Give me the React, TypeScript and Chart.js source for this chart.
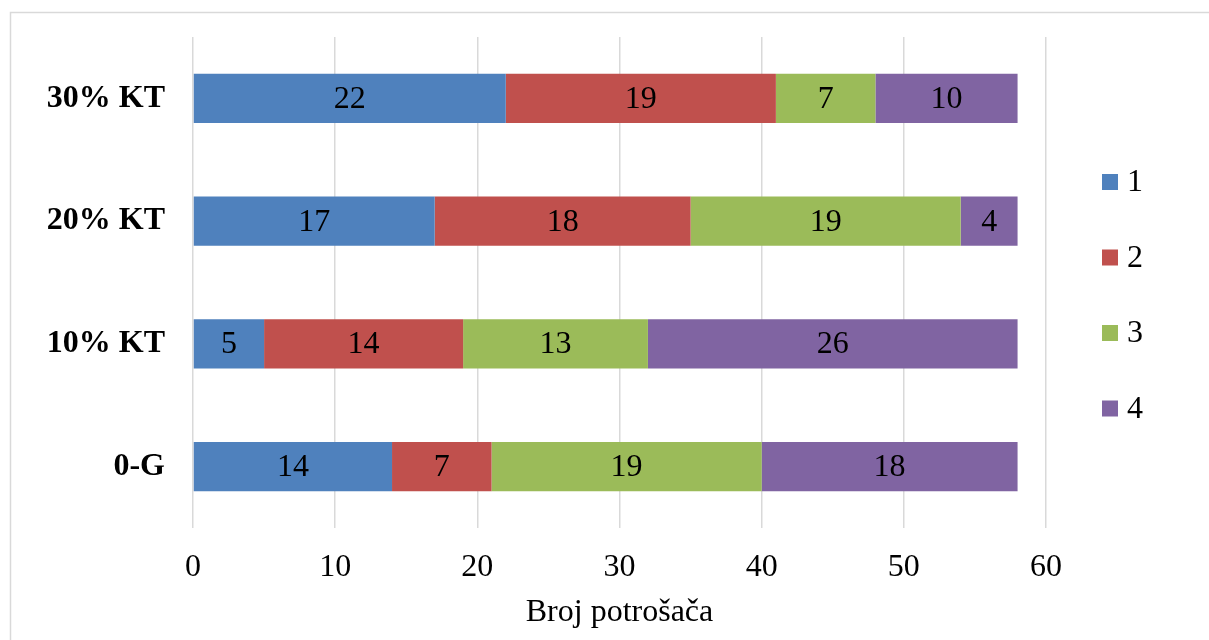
import React, { useEffect, useRef } from "react";
import { Chart, registerables } from "chart.js";

Chart.register(...registerables);

const categories = ["30% KT", "20% KT", "10% KT", "0-G"];
const seriesNames = ["1", "2", "3", "4"];
const series1 = [22, 17, 5, 14];
const series2 = [19, 18, 14, 7];
const series3 = [7, 19, 13, 19];
const series4 = [10, 4, 26, 18];
const xTicks = [0, 10, 20, 30, 40, 50, 60];
const colors = ["#4F81BD", "#C0504D", "#9BBB59", "#8064A2"];
const axisTitle = "Broj potrošača";

const FONT = "'Liberation Serif', 'Times New Roman', serif";

const borderPlugin = {
  id: "outerBorder",
  beforeDraw(chart: any) {
    const ctx = chart.ctx;
    ctx.save();
    ctx.fillStyle = "#ffffff";
    ctx.fillRect(0, 0, chart.width, chart.height);
    ctx.strokeStyle = "#d9d9d9";
    ctx.lineWidth = 1.5;
    ctx.strokeRect(10.5, 12.5, chart.width + 20, chart.height + 20);
    ctx.restore();
  },
};

const dataLabelPlugin = {
  id: "dataLabels",
  afterDatasetsDraw(chart: any) {
    const ctx = chart.ctx;
    ctx.save();
    ctx.font = `32px ${FONT}`;
    ctx.fillStyle = "#000000";
    ctx.textAlign = "center";
    ctx.textBaseline = "middle";
    chart.data.datasets.forEach((ds: any, di: number) => {
      const meta = chart.getDatasetMeta(di);
      meta.data.forEach((bar: any, i: number) => {
        const v = ds.data[i];
        const p = bar.getProps(["x", "y", "base"], true);
        const cx = (p.x + p.base) / 2;
        ctx.fillText(String(v), cx, p.y + 1);
      });
    });
    ctx.restore();
  },
};

const legendPlugin = {
  id: "customLegend",
  afterDraw(chart: any) {
    const ctx = chart.ctx;
    const area = chart.chartArea;
    ctx.save();
    ctx.font = `32px ${FONT}`;
    ctx.textAlign = "left";
    ctx.textBaseline = "middle";
    const startY = area.top + 145;
    const step = 75.5;
    const x = area.right + 56;
    chart.data.datasets.forEach((ds: any, i: number) => {
      const y = startY + i * step;
      ctx.fillStyle = ds.backgroundColor;
      ctx.fillRect(x, y - 8, 16, 16);
      ctx.fillStyle = "#000000";
      ctx.fillText(ds.label, x + 25, y + 1);
    });
    ctx.restore();
  },
};

export default function App() {
  const ref = useRef<HTMLCanvasElement | null>(null);
  useEffect(() => {
    if (!ref.current) return;
    const allSeries = [series1, series2, series3, series4];
    const chart = new Chart(ref.current, {
      type: "bar",
      data: {
        labels: categories,
        datasets: allSeries.map((d, i) => ({
          label: seriesNames[i],
          data: d,
          backgroundColor: colors[i],
          borderWidth: 0,
          categoryPercentage: 1,
          barPercentage: 0.4,
        })),
      },
      options: {
        indexAxis: "y",
        animation: false,
        responsive: false,
        maintainAspectRatio: false,
        layout: { padding: { top: 37, right: 163, left: 0, bottom: 0 } },
        plugins: {
          legend: { display: false },
          tooltip: { enabled: false },
        },
        scales: {
          x: {
            stacked: true,
            min: 0,
            max: 60,
            afterBuildTicks: (scale: any) => {
              scale.ticks = xTicks.map((v) => ({ value: v }));
            },
            afterFit: (scale: any) => {
              scale.height = 112;
            },
            grid: { color: "#d9d9d9", lineWidth: 1.5, drawTicks: false },
            border: { display: false },
            ticks: {
              color: "#000000",
              font: { family: FONT, size: 32 },
              padding: 20,
              maxRotation: 0,
            },
            title: {
              display: true,
              text: axisTitle,
              color: "#000000",
              font: { family: FONT, size: 32 },
              padding: { top: 0, bottom: 8 },
            },
          },
          y: {
            stacked: true,
            afterFit: (scale: any) => {
              scale.width = 193;
              scale.paddingTop = 0;
              scale.paddingBottom = 0;
            },
            grid: { display: false, drawTicks: false },
            border: { display: false },
            ticks: {
              color: "#000000",
              font: { family: FONT, size: 32, weight: "bold" },
              padding: 28,
            },
          },
        },
      },
      plugins: [borderPlugin, dataLabelPlugin, legendPlugin],
    });
    return () => chart.destroy();
  }, []);
  return (
    <div style={{ position: "fixed", left: 0, top: 0, width: 1209, height: 640, background: "#fff" }}>
      <canvas ref={ref} width={1209} height={640} style={{ display: "block", width: 1209, height: 640 }} />
    </div>
  );
}
